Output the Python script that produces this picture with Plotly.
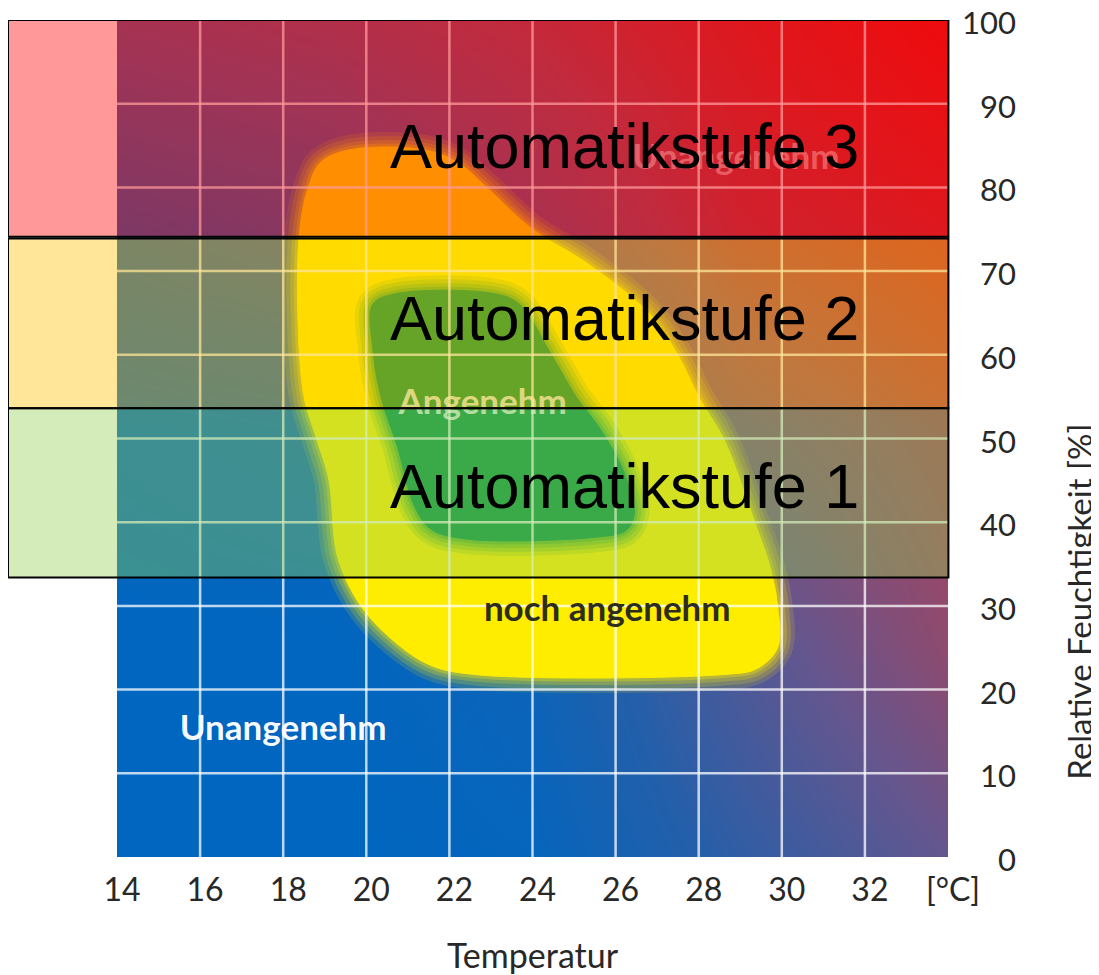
import plotly.graph_objects as go

# ---------------- data ----------------
# background "discomfort" shading (0 = blue, 1 = red)
bg_temp = [14, 19, 24, 29, 34]
bg_rh = [0, 25, 50, 75, 100]
bg_z = [
    [0.00, 0.00, 0.03, 0.25, 0.45],
    [0.00, 0.00, 0.08, 0.38, 0.62],
    [0.03, 0.06, 0.25, 0.55, 0.70],
    [0.22, 0.30, 0.50, 0.75, 0.85],
    [0.48, 0.55, 0.68, 0.85, 1.00],
]

# zone "noch angenehm" (yellow) outline
yellow_T = [18.6, 18.9, 19.6, 21.4, 22.2, 22.9, 24.0, 25.3, 26.8, 27.5, 28.0, 28.6, 29.0,
            29.35, 29.7, 29.9, 29.9, 29.4, 28.6, 22.6, 21.5, 20.5, 19.8, 19.3, 19.1, 18.8,
            18.5, 18.35, 18.4, 18.6]
yellow_RH = [80, 83, 84.5, 84.5, 83, 80, 75, 71, 65, 60, 55, 50, 45,
             40, 35, 30, 25, 22.5, 21.8, 21.8, 23, 26.5, 30.5, 36, 45, 50,
             55, 65, 75, 80]

# zone "Angenehm" (green) outline
green_T = [20.15, 20.7, 23.1, 23.7, 24.4, 25.05, 25.65, 26.2, 26.45, 26.25, 25.5, 22.4,
           21.55, 21.15, 20.75, 20.35, 20.15, 20.15]
green_RH = [66, 67.3, 67.3, 66, 60.5, 55, 51, 46, 41, 39, 38.2, 38.0,
            39.2, 42, 49, 55, 61, 66]

# ticks
temp_ticks = [14, 16, 18, 20, 22, 24, 26, 28, 30, 32, 34]
temp_labels = ["14", "16", "18", "20", "22", "24", "26", "28", "30", "32", "[°C]"]
rh_ticks = [0, 10, 20, 30, 40, 50, 60, 70, 80, 90, 100]

# chart labels
zone_label_text = ["Unangenehm", "noch angenehm", "Angenehm", "Unangenehm"]
zone_label_T = [18.0, 25.8, 22.8, 28.9]
zone_label_RH = [15.0, 29.3, 54.0, 83.3]
zone_label_color = ["rgba(255,255,255,0.97)", "rgb(45,45,30)",
                    "rgba(255,255,255,0.8)", "rgba(255,255,255,0.5)"]

# Automatikstufen bands (relative humidity ranges)
stufe_names = ["Automatikstufe 3", "Automatikstufe 2", "Automatikstufe 1"]
stufe_low = [74.1, 53.6, 33.4]
stufe_high = [100, 73.9, 53.6]
stufe_fill = ["rgba(255,0,0,0.4)", "rgba(255,192,0,0.4)", "rgba(146,208,80,0.4)"]
stufe_text_rh = [85.0, 64.4, 44.3]
stufe_text_T = 20.52

# ---------------- figure ----------------
# page body has an 8px margin, so the figure is 8px smaller and margins reduced by 8
W, H = 1091, 967
ML, MR, MT, MB = 109, 151, 12, 118
plot_w = W - ML - MR

fig = go.Figure()

fig.add_trace(go.Heatmap(
    x=bg_temp, y=bg_rh, z=bg_z, zmin=0, zmax=1, zsmooth="best", showscale=False,
    hoverinfo="skip",
    colorscale=[
        [0.0, "rgb(0,102,192)"],
        [0.2, "rgb(35,95,170)"],
        [0.45, "rgb(100,86,142)"],
        [0.65, "rgb(150,72,105)"],
        [0.85, "rgb(200,40,50)"],
        [1.0, "rgb(228,18,22)"],
    ],
))


def add_zone(xs, ys, rgb):
    # soft edge: several translucent outlines of decreasing width
    for width, alpha in [(30, 0.14), (22, 0.18), (14, 0.22), (7, 0.3)]:
        fig.add_trace(go.Scatter(
            x=xs, y=ys, mode="lines", hoverinfo="skip", showlegend=False,
            line=dict(color=f"rgba({rgb},{alpha})", width=width, shape="spline", smoothing=1.0),
        ))
    fig.add_trace(go.Scatter(
        x=xs, y=ys, mode="lines", fill="toself", fillcolor=f"rgb({rgb})",
        hoverinfo="skip", showlegend=False,
        line=dict(color=f"rgb({rgb})", width=1, shape="spline", smoothing=1.0),
    ))


add_zone(yellow_T, yellow_RH, "255,237,0")
add_zone(green_T, green_RH, "0,145,68")

# grid lines (drawn above the shading)
gx, gy = [], []
for t in temp_ticks[1:-1]:
    gx += [t, t, None]
    gy += [rh_ticks[0], rh_ticks[-1], None]
for r in rh_ticks[1:-1]:
    gx += [temp_ticks[0], temp_ticks[-1], None]
    gy += [r, r, None]
fig.add_trace(go.Scatter(x=gx, y=gy, mode="lines", hoverinfo="skip", showlegend=False,
                         line=dict(color="rgba(255,255,255,0.75)", width=2.5)))

# zone labels
fig.add_trace(go.Scatter(
    x=zone_label_T, y=zone_label_RH, text=zone_label_text, mode="text",
    hoverinfo="skip", showlegend=False,
    textfont=dict(family="Lato", size=35, color=zone_label_color, weight="bold"),
))

# Automatikstufe bands
x0_paper = -ML / plot_w
for name, lo, hi, fc, ty in zip(stufe_names, stufe_low, stufe_high, stufe_fill, stufe_text_rh):
    fig.add_shape(type="rect", xref="paper", yref="y", x0=x0_paper, x1=1.0005, y0=lo, y1=hi,
                  fillcolor=fc, line=dict(color="black", width=2), layer="above")
    fig.add_annotation(x=stufe_text_T, y=ty, xref="x", yref="y", text=name, showarrow=False,
                       xanchor="left", yanchor="middle",
                       font=dict(family="Liberation Sans", size=63, color="black"))

# y tick labels on the right (right aligned)
for r in rh_ticks:
    fig.add_annotation(x=(1010 - ML) / plot_w, y=r, xref="paper", yref="y", text=str(r),
                       showarrow=False, xanchor="right", yanchor="middle", yshift=-2,
                       font=dict(family="Lato", size=31, color="rgb(40,40,40)"))

# y axis title
fig.add_annotation(x=(1071 - ML) / plot_w, y=0.305, xref="paper", yref="paper",
                   text="Relative Feuchtigkeit [%]", textangle=-90, showarrow=False,
                   xanchor="center", yanchor="middle",
                   font=dict(family="Lato", size=33, color="rgb(40,40,40)"))

fig.update_layout(
    width=W, height=H,
    margin=dict(l=ML, r=MR, t=MT, b=MB, pad=0, autoexpand=False),
    paper_bgcolor="white", plot_bgcolor="white",
    showlegend=False,
    xaxis=dict(range=[14, 34], tickvals=temp_ticks, ticktext=temp_labels,
               showgrid=False, zeroline=False, showline=False, automargin=False,
               ticks="outside", ticklen=5, tickcolor="rgba(0,0,0,0)", ticklabelshift=5,
               tickfont=dict(family="Lato", size=32, color="rgb(40,40,40)"),
               title=dict(text="Temperatur", standoff=36,
                          font=dict(family="Lato", size=34, color="rgb(40,40,40)"))),
    yaxis=dict(range=[0, 100], showgrid=False, zeroline=False, showline=False,
               showticklabels=False, automargin=False),
)

fig.write_html("out.html")
